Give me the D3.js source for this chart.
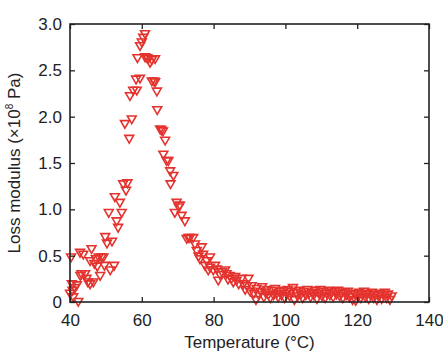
<!DOCTYPE html>
<html>
<head>
<meta charset="utf-8" />
<title>Loss modulus</title>
<script src="https://d3js.org/d3.v7.min.js"></script>
<style>
  body { margin: 0; background: #fff; }
  text { font-family: "Liberation Sans", Arial, sans-serif; fill: #222; }
</style>
</head>
<body>
<svg></svg>
<script>
// temperature (°C) and loss modulus (x10^8 Pa)
const temperature = [
  40.0,40.3,40.5,40.7,40.9,41.4,41.9,42.3,42.8,42.9,43.2,43.7,44.2,44.6,45.0,45.6,45.6,46.0,46.5,46.8,
  47.2,47.6,48.0,48.4,48.8,49.3,49.6,49.8,50.3,50.8,51.2,51.7,52.3,52.5,53.0,53.4,53.9,54.4,54.8,55.3,
  55.6,56.0,56.5,56.7,57.2,57.6,58.4,58.6,58.8,59.5,59.5,60.0,60.4,60.9,
  60.9,61.5,61.8,62.3,62.8,62.8,63.4,63.7,63.7,64.2,64.3,65.1,65.5,65.9,66.5,66.0,66.9,67.4,67.9,68.0,
  68.8,69.2,69.7,70.3,70.6,71.1,72.0,72.5,73.0,73.4,74.3,74.8,75.3,75.8,76.2,76.7,77.1,77.6,78.1,78.5,
  79.0,79.0,79.9,80.4,80.9,81.3,81.8,82.3,83.2,83.6,84.0,84.5,85.0,85.5,86.0,86.4,87.0,87.8,88.3,88.8,
  89.3,89.7,90.2,90.6,
  91.2,91.8,92.0,92.6,93.1,93.5,94.0,94.4,94.9,95.3,95.8,96.2,96.7,97.1,97.6,98.0,98.5,98.9,99.4,99.8,
  100.3,100.7,101.2,101.6,102.1,102.5,103.0,103.4,103.9,104.3,104.8,105.2,105.7,106.1,106.6,107.0,107.5,107.9,108.4,108.8,
  109.3,109.7,110.2,110.6,111.1,111.5,112.0,112.4,112.9,113.3,113.8,114.2,114.7,115.1,115.6,116.0,116.5,116.9,117.4,117.8,
  118.3,118.7,119.2,119.6,120.1,120.5,121.0,121.4,121.9,122.3,122.8,123.2,123.7,124.1,124.6,125.0,125.5,125.9,126.4,126.8,
  127.3,127.7,128.2,128.6,129.1,129.6
];
const lossModulus = [
  0.10,0.49,0.20,0.13,0.06,0.16,0.19,0.01,0.54,0.29,0.31,0.52,0.31,0.26,0.22,0.45,0.20,0.58,0.22,0.42,
  0.47,0.39,0.49,0.29,0.49,0.49,0.40,0.71,0.64,0.97,0.35,0.66,0.40,1.14,0.88,0.81,1.08,0.97,1.28,1.93,
  1.21,1.29,1.77,2.23,1.98,2.29,2.41,2.29,2.64,2.42,2.77,2.81,2.86,2.90,
  2.65,2.64,2.63,2.59,2.62,2.39,2.39,2.63,2.38,2.28,2.08,1.87,1.86,1.85,1.75,1.60,1.53,1.53,1.42,1.28,
  1.37,0.97,1.08,1.03,1.05,0.94,0.88,0.69,0.70,0.70,0.70,0.63,0.56,0.50,0.47,0.60,0.52,0.40,0.45,0.35,
  0.49,0.38,0.35,0.40,0.36,0.24,0.30,0.33,0.35,0.31,0.25,0.29,0.26,0.22,0.28,0.24,0.20,0.26,0.20,0.14,
  0.18,0.26,0.12,0.18,
  0.10,0.03,0.15,0.08,0.12,0.17,0.06,0.11,0.14,0.09,0.05,0.13,0.08,0.15,0.10,0.06,0.12,0.08,0.13,0.05,
  0.10,0.14,0.07,0.12,0.16,0.03,0.11,0.07,0.13,0.09,0.05,0.12,0.08,0.14,0.10,0.06,0.11,0.08,0.13,0.04,
  0.10,0.14,0.07,0.12,0.05,0.10,0.13,0.08,0.11,0.06,0.12,0.09,0.13,0.07,0.10,0.05,0.11,0.08,0.12,0.06,
  0.09,0.03,0.10,0.02,0.07,0.11,0.05,0.09,0.12,0.06,0.10,0.04,0.08,0.11,0.05,0.09,0.03,0.07,0.10,0.04,
  0.08,0.11,0.05,0.09,0.03,0.07
];
const xTicks = [40, 60, 80, 100, 120, 140];
const yTicks = [0, 0.5, 1.0, 1.5, 2.0, 2.5, 3.0];

const W = 443, H = 352;
const margin = {top: 24, right: 14, bottom: 50, left: 70};
const width = W - margin.left - margin.right,
      height = H - margin.top - margin.bottom;

const svg = d3.select("svg").attr("width", W).attr("height", H);
const chart = svg.append("g")
  .attr("transform", `translate(${margin.left},${margin.top})`);

const x = d3.scaleLinear().domain([40, 140]).range([0, width]);
const y = d3.scaleLinear().domain([0, 3]).range([height, 0]);

// points
const tri = d3.symbol().type(d3.symbolTriangle).size(34);
chart.selectAll(".pt")
  .data(temperature.map((t, i) => [t, lossModulus[i]]))
  .enter().append("path")
  .attr("class", "pt")
  .attr("d", tri)
  .attr("transform", d => `translate(${x(d[0])},${y(d[1])}) rotate(180)`)
  .attr("fill", "none")
  .attr("stroke", "#e4332e")
  .attr("stroke-width", 1.6);

// box with inward ticks
function styleAxis(g) {
  g.select(".domain").remove();
  g.selectAll("line").attr("stroke", "#222").attr("stroke-width", 1.3);
  g.selectAll("text").attr("font-size", 17).attr("fill", "#222")
    .style("font-family", '"Liberation Sans", Arial, sans-serif');
}
chart.append("g")
  .attr("transform", `translate(0,${height})`)
  .call(d3.axisBottom(x).tickValues(xTicks).tickSize(-5).tickPadding(12).tickFormat(d3.format("d")))
  .call(styleAxis);
chart.append("g")
  .call(d3.axisTop(x).tickValues(xTicks).tickSize(-5).tickFormat(""))
  .call(styleAxis);
chart.append("g")
  .call(d3.axisLeft(y).tickValues(yTicks).tickSize(-5).tickPadding(8)
    .tickFormat(d => d === 0 ? "0" : d3.format(".1f")(d)))
  .call(styleAxis);
chart.append("g")
  .attr("transform", `translate(${width},0)`)
  .call(d3.axisRight(y).tickValues(yTicks).tickSize(-5).tickFormat(""))
  .call(styleAxis);

chart.append("rect")
  .attr("width", width).attr("height", height)
  .attr("fill", "none").attr("stroke", "#222").attr("stroke-width", 1.6);

// labels
chart.append("text")
  .attr("x", width / 2)
  .attr("y", height + 46)
  .attr("text-anchor", "middle")
  .attr("font-size", 17)
  .text("Temperature (°C)");

const yl = chart.append("text")
  .attr("transform", `translate(-50,${height / 2}) rotate(-90)`)
  .attr("text-anchor", "middle")
  .attr("font-size", 17);
yl.append("tspan").text("Loss modulus (×10");
yl.append("tspan").attr("font-size", 10).attr("dy", -7).text("8");
yl.append("tspan").attr("dy", 7).text(" Pa)");
</script>
</body>
</html>
